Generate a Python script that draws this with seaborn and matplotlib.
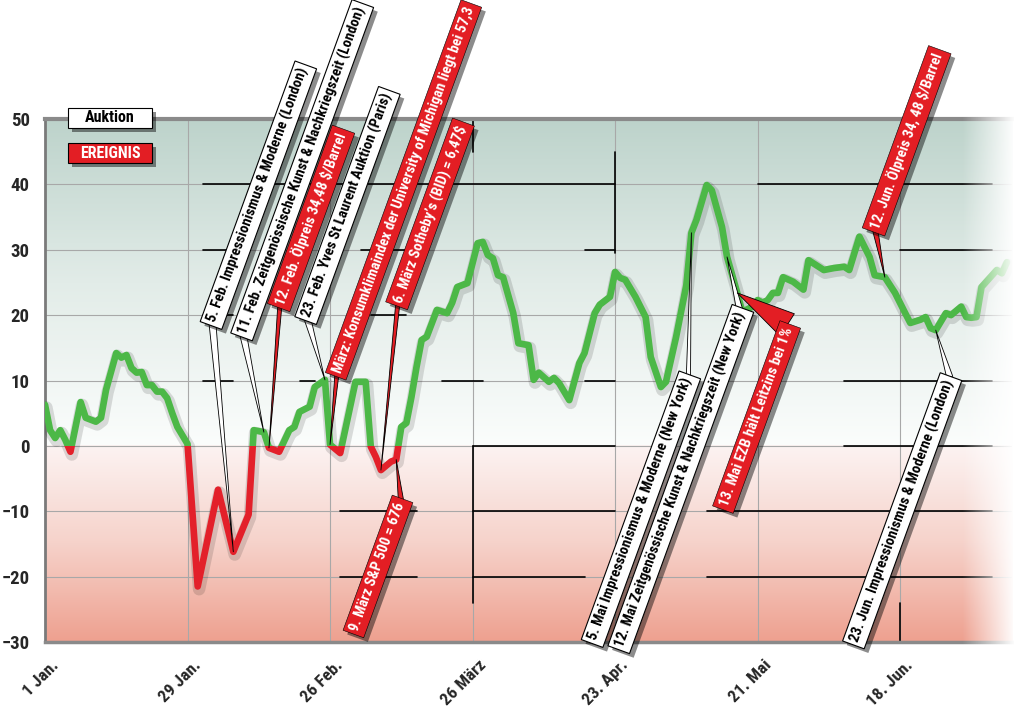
"""Kunstmarkt-Index 1. Halbjahr mit Auktionen und Ereignissen."""

import matplotlib

matplotlib.use("Agg")

import matplotlib.dates as mdates
import matplotlib.patheffects as pe
import matplotlib.pyplot as plt
import numpy as np
import pandas as pd
import seaborn as sns
from matplotlib import font_manager
from matplotlib.colors import LinearSegmentedColormap
from matplotlib.patches import Rectangle
from matplotlib.transforms import ScaledTranslation

START = pd.Timestamp("2009-01-01")

# days after 1 Jan and the index value
DAYS = [0, 1, 2, 3, 4, 5, 7, 8, 10, 11,
        12, 14, 15, 16, 17, 18, 19, 20, 21, 22,
        23, 24, 25, 26, 28, 30, 34, 37, 40, 41,
        43, 44, 46, 48, 49, 50, 52, 53, 55, 56,
        58, 61, 63, 64, 65, 66, 68, 69, 70, 71,
        72, 73, 74, 75, 77, 79, 80, 81, 83, 85,
        86, 87, 88, 89, 90, 92, 93, 95, 96, 97,
        99, 100, 101, 103, 105, 106, 108, 109, 111, 112,
        113, 114, 116, 118, 119, 121, 122, 124, 126, 127,
        128, 130, 131, 133, 134, 136, 137, 139, 140, 141,
        142, 143, 144, 145, 147, 149, 150, 152, 153, 155,
        157, 158, 160, 162, 163, 165, 167, 169, 170, 172,
        173, 174, 175, 177, 178, 180, 181, 182, 183, 184,
        187, 188, 189]
VALUES = [6.3, 2.4, 1.2, 2.4, 0.9, -0.9, 6.7, 4.3, 3.7, 4.3,
          8.6, 14.2, 13.5, 13.9, 11.9, 11.2, 11.3, 9.3, 9.3, 8.3,
          8.3, 7.3, 5.0, 2.9, 0.3, -21.5, -6.7, -16.2, -10.5, 2.4,
          2.1, -0.3, -0.9, 2.4, 2.9, 5.2, 6.0, 9.0, 10.1, 0.2,
          -1.1, 9.8, 9.8, -0.1, -1.7, -3.7, -2.4, -2.1, 2.9, 3.5,
          7.5, 12.1, 16.2, 16.7, 20.8, 20.3, 21.9, 24.3, 24.9, 31.0,
          31.2, 29.2, 28.7, 26.1, 25.8, 20.3, 15.7, 15.4, 10.1, 11.2,
          9.8, 10.4, 9.6, 7.0, 12.7, 14.2, 20.3, 21.6, 22.8, 26.6,
          25.7, 25.4, 22.8, 19.7, 13.6, 9.0, 9.8, 16.7, 24.6, 32.6,
          34.6, 39.9, 39.1, 33.5, 28.9, 23.4, 20.5, 21.3, 22.3, 21.9,
          22.3, 23.4, 23.4, 25.8, 25.1, 23.9, 28.4, 27.4, 26.9, 27.2,
          27.4, 26.9, 32.0, 28.9, 26.1, 25.8, 23.4, 20.3, 18.8, 19.3,
          19.7, 18.0, 17.7, 20.3, 20.0, 21.3, 19.7, 19.6, 19.7, 24.3,
          26.9, 26.4, 28.1]

TICK_DAYS = [0, 28, 56, 84, 112, 140, 168]
TICK_LABELS = ["1 Jan.", "29 Jan.", "26 Feb.", "26 März", "23. Apr.", "21. Mai", "18. Jun."]
Y_TICKS = [-30, -20, -10, 0, 10, 20, 30, 40, 50]

LABEL_DAYS = [37, 43, 44, 55, 56, 66, 69, 127, 134, 136, 165, 175]
LABEL_TEXTS = [
    "5. Feb. Impressionismus & Moderne (London)",
    "11. Feb. Zeitgenössische Kunst & Nachkriegszeit (London)",
    r"12. Feb. Ölpreis 34,48 \$/Barrel",
    "23. Feb. Yves St Laurent Auktion (Paris)",
    "März: Konsumklimaindex der University of Michigan liegt bei 57,3",
    r"6. März Sotheby’s (BID) = 6,47\$",
    "9. März S&P 500 = 676",
    "5. Mai Impressionismus & Moderne (New York)",
    "12. Mai Zeitgenössische Kunst & Nachkriegszeit (New York)",
    "13. Mai EZB hält Leitzins bei 1%",
    r"12. Jun. Ölpreis 34, 48 \$/Barrel",
    "23. Jun. Impressionismus & Moderne (London)",
]
LABEL_KINDS = ["Auktion", "Auktion", "Ereignis", "Auktion", "Ereignis", "Ereignis",
               "Ereignis", "Auktion", "Auktion", "Ereignis", "Ereignis", "Auktion"]

# layout of the callouts, in pixels relative to the point they mark
TEXT_OFFSETS = [(-21, 230), (-21, 99), (11, 144), (-18, 63), (7, 72), (17, 168),
                (5, -43), (-98, -407), (-107, -389), (-13, -213), (-10, 49), (-81, -311)]
TAIL_OFFSETS = [(-21, 230), (-21, 99), (11, 144), (-18, 63), (7, 72), (17, 168),
                (5, -43), (-3, -143), (14, -59), (50, -32), (-10, 49), (14, -47)]
TAIL_WIDTHS = [0.5, 0.5, 0.3, 0.5, 0.3, 0.3, 0.4, 0.3, 0.5, 1.9, 0.4, 0.45]

# leftover black frame strokes of the print layout: (y, from day, to day)
FRAME_H = [(40, 31, 112), (40, 140, 186), (30, 31, 37), (30, 62, 71), (30, 106, 112),
           (30, 168, 186), (20, 31, 37), (20, 64, 71), (10, 31, 37), (10, 50, 53),
           (10, 78, 86), (10, 106, 112), (10, 157, 186), (0, 84, 112), (0, 157, 186),
           (-10, 58, 73), (-10, 84, 112), (-10, 130, 186), (-20, 58, 73), (-20, 84, 106),
           (-20, 130, 186)]
FRAME_V = [(84, -24, 0), (84, 45, 50), (112, 29.5, 45), (168, -30, -24)]

GREEN = "#4cb847"
RED = "#e3202a"
BOX_RED = "#e31e24"
N_DAYS = 190


def has_font(name):
    try:
        font_manager.findfont(font_manager.FontProperties(family=name),
                              fallback_to_default=False)
        return True
    except ValueError:
        return False


# a condensed bold face like the print original; shrink sizes for wider fallbacks
FONT_CHOICES = [("Liberation Sans Narrow", 1.0), ("Roboto Condensed", 1.0),
                ("Open Sans Condensed", 1.0), ("Roboto", 0.86), ("DejaVu Sans", 0.72)]
FAMILY, SCALE = next((f, s) for f, s in FONT_CHOICES if has_font(f))

sns.set_style("white")
plt.rcParams["font.family"] = [FAMILY, "DejaVu Sans"]
plt.rcParams["font.weight"] = "bold"


def day_num(d):
    return mdates.date2num(START + pd.Timedelta(days=d))


df = pd.DataFrame({"date": START + pd.to_timedelta(DAYS, unit="D"), "value": VALUES})

fig = plt.figure(figsize=(10.14, 7.08), dpi=100)
ax = fig.add_axes([45 / 1014, 1 - 642 / 708, N_DAYS * 5.09 / 1014, 523 / 708])

x0, x1 = day_num(0), day_num(N_DAYS)

# background gradients
up = LinearSegmentedColormap.from_list("up", ["#fbfdfc", "#e2ece8", "#bdd3cb"])
down = LinearSegmentedColormap.from_list("down", ["#eea08f", "#f6d2ca", "#fcf3f2"])
grad = np.linspace(0, 1, 256).reshape(-1, 1)
ax.imshow(grad, cmap=up, origin="lower", extent=(x0, x1, 0, 50), aspect="auto", zorder=0)
ax.imshow(grad, cmap=down, origin="lower", extent=(x0, x1, -30, 0), aspect="auto", zorder=0)

# the index line: green above zero, red below
for color, clip in [(GREEN, (0, 60)), (RED, (-40, 0))]:
    sns.lineplot(data=df, x="date", y="value", color=color, lw=4.8, ax=ax, zorder=3)
    line = ax.lines[-1]
    line.set_solid_joinstyle("round")
    line.set_path_effects([
        pe.SimpleLineShadow(offset=(1, -2), shadow_color="black", alpha=0.13, linewidth=9),
        pe.Normal(),
    ])
    line.set_clip_path(Rectangle((x0, clip[0]), N_DAYS, clip[1] - clip[0], transform=ax.transData))

for y, a, b in FRAME_H:
    ax.plot([day_num(a), day_num(b)], [y, y], color="black", lw=1.2, zorder=1)
for d, a, b in FRAME_V:
    ax.plot([day_num(d), day_num(d)], [a, b], color="black", lw=1.2, zorder=1)

ax.set_xlim(x0, x1)
ax.set_ylim(-30, 50)
ax.set_xticks([day_num(d) for d in TICK_DAYS])
ax.set_xticklabels(TICK_LABELS)
ax.set_yticks(Y_TICKS)
ax.set_xlabel("")
ax.set_ylabel("")
ax.grid(True, color="#a8a8a8", lw=0.8)
ax.set_axisbelow(True)
for gl in ax.get_xgridlines() + ax.get_ygridlines():
    gl.set_zorder(0.5)

ax.spines["right"].set_visible(False)
ax.spines["top"].set_color("#8a8a8a")
ax.spines["top"].set_linewidth(3)
ax.spines["left"].set_color("#7a7a7a")
ax.spines["left"].set_linewidth(2)
ax.spines["bottom"].set_color("#8a8a8a")
ax.spines["bottom"].set_linewidth(2.5)
ax.tick_params(axis="y", length=8, width=1.5, color="#7a7a7a", pad=3, labelsize=13.5 * SCALE)
ax.tick_params(axis="x", length=4, width=1.5, color="#7a7a7a", pad=6, labelsize=12.5 * SCALE)
for lbl in ax.get_yticklabels():
    lbl.set_fontweight("bold")
shift = ScaledTranslation(11 / 100, -7 / 100, fig.dpi_scale_trans)
for lbl in ax.get_xticklabels():
    lbl.set_fontweight("bold")
    lbl.set_rotation(45)
    lbl.set_ha("right")
    lbl.set_va("center")
    lbl.set_rotation_mode("anchor")
    lbl.set_transform(lbl.get_transform() + shift)

# callouts
lookup = dict(zip(DAYS, VALUES))
box_shadow = [pe.SimplePatchShadow(offset=(3, -3), shadow_rgbFace="black", alpha=0.45), pe.Normal()]
label_size = 10.6 * SCALE
label_pad = 0.27 + (1 - SCALE) * 0.9
for day, text, kind, toff, aoff, tw in zip(LABEL_DAYS, LABEL_TEXTS, LABEL_KINDS,
                                            TEXT_OFFSETS, TAIL_OFFSETS, TAIL_WIDTHS):
    xy = (day_num(day), lookup[day])
    fc = "white" if kind == "Auktion" else BOX_RED
    ax.annotate("", xy=xy, xytext=aoff, textcoords="offset pixels", annotation_clip=False,
                arrowprops=dict(arrowstyle=f"wedge,tail_width={tw},shrink_factor=0.5",
                                fc=fc, ec="black", lw=0.6, shrinkA=0, shrinkB=0),
                zorder=5)
    below = toff[1] < 0 and kind == "Ereignis" and day < 100
    ann = ax.annotate(text, xy=xy, xytext=toff, textcoords="offset pixels",
                      annotation_clip=False, rotation=70, rotation_mode="anchor",
                      ha="right" if below else "left", va="center", fontsize=label_size,
                      fontweight="bold", color="black" if kind == "Auktion" else "white",
                      bbox=dict(boxstyle=f"square,pad={label_pad:.2f}", fc=fc, ec="black",
                                lw=0.8 if kind == "Auktion" else 0.4),
                      zorder=6)
    ann.get_bbox_patch().set_path_effects(box_shadow)

# legend boxes
for (ytop, label, fc, tc) in [(108, "Auktion", "white", "black"), (143, "EREIGNIS", BOX_RED, "white")]:
    rect = Rectangle((68 / 1014, 1 - (ytop + 20) / 708), 84 / 1014, 20 / 708,
                     transform=fig.transFigure, fc=fc, ec="black", lw=0.8, zorder=10)
    rect.set_path_effects(box_shadow)
    fig.add_artist(rect)
    fig.text(110 / 1014, 1 - (ytop + 10) / 708, label, ha="center", va="center",
             fontsize=11.5 * SCALE, fontweight="bold", color=tc, zorder=11)

# soft fade towards the right edge
fade = fig.add_axes([962 / 1014, 0.08, 52 / 1014, 0.78])
rgba = np.ones((1, 64, 4))
rgba[0, :, 3] = np.linspace(0, 0.97, 64)
fade.imshow(rgba, aspect="auto", extent=(0, 1, 0, 1))
fade.set_axis_off()

fig.savefig("out.png", dpi=100)
